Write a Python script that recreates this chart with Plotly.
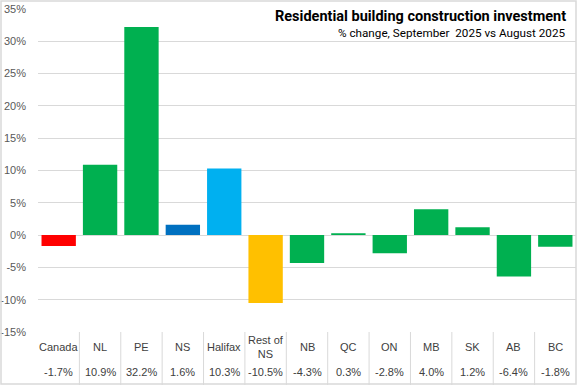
import plotly.graph_objects as go

categories = ["Canada", "NL", "PE", "NS", "Halifax", "Rest of NS", "NB", "QC", "ON", "MB", "SK", "AB", "BC"]
values = [-1.7, 10.9, 32.2, 1.6, 10.3, -10.5, -4.3, 0.3, -2.8, 4.0, 1.2, -6.4, -1.8]
tick_values = [-15, -10, -5, 0, 5, 10, 15, 20, 25, 30, 35]
tick_labels = ["-15%", "-10%", "-5%", "0%", "5%", "10%", "15%", "20%", "25%", "30%", "35%"]
title_text = "Residential building construction investment"
subtitle_text = "% change, September  2025 vs August 2025"

GREEN = "#00B050"
bar_colors = ["#FF0000", GREEN, GREEN, "#0070C0", "#00B0F0", "#FFC000",
              GREEN, GREEN, GREEN, GREEN, GREEN, GREEN, GREEN]

W, H = 577, 385
L, R, T, B = 38, 1, 9, 53
plot_h = H - T - B
plot_w = W - L - R

def py(pix):
    return (H - B - pix) / plot_h

def px(pix):
    return (pix - L) / plot_w

FONT = "Liberation Sans"
GRID = "#D9D9D9"
TXT = "#404040"

fig = go.Figure(go.Bar(
    x=categories, y=values, marker_color=bar_colors, marker_line_width=0,
    hoverinfo="skip",
))

annotations = []
shapes = []
display_names = [c.replace("Rest of NS", "Rest of<br>NS") for c in categories]
for i, (c, v) in enumerate(zip(categories, values)):
    annotations.append(dict(x=c, xref="x", y=py(347), yref="paper", text=display_names[i],
                            showarrow=False, font=dict(family=FONT, size=11, color=TXT),
                            xanchor="center", yanchor="middle"))
    annotations.append(dict(x=c, xref="x", y=py(372), yref="paper", text=f"{v:.1f}%",
                            showarrow=False, font=dict(family=FONT, size=11, color=TXT),
                            xanchor="center", yanchor="middle"))
for i in range(len(categories) - 1):
    shapes.append(dict(type="line", xref="x", yref="paper", x0=i + 0.5, x1=i + 0.5,
                       y0=0, y1=py(H), line=dict(color=GRID, width=1)))

# chart border
shapes.append(dict(type="rect", xref="paper", yref="paper", x0=px(1), x1=px(W - 1),
                   y0=py(H - 1), y1=py(1), line=dict(color=GRID, width=1.5)))

annotations.append(dict(x=px(568), y=py(17), xref="paper", yref="paper", text=f"<b>{title_text}</b>",
                        showarrow=False, xanchor="right", yanchor="middle",
                        font=dict(family="Roboto", size=14.5, color="#000000")))
annotations.append(dict(x=px(568), y=py(33), xref="paper", yref="paper", text=subtitle_text,
                        showarrow=False, xanchor="right", yanchor="middle",
                        font=dict(family="Roboto", size=11.7, color="#000000")))

fig.update_layout(
    width=W, height=H, margin=dict(l=L, r=R, t=T, b=B, pad=0),
    plot_bgcolor="white", paper_bgcolor="white", showlegend=False,
    bargap=0.17, hovermode=False,
    annotations=annotations, shapes=shapes,
    xaxis=dict(type="category", range=[-0.5, len(categories) - 0.5], showticklabels=False,
               showgrid=False, zeroline=False, showline=False, ticks=""),
    yaxis=dict(range=[-15, 35], tickvals=tick_values, ticktext=tick_labels, showgrid=True,
               gridcolor=GRID, gridwidth=1, zeroline=False, showline=False, ticks="",
               ticklabelstandoff=11,
               tickfont=dict(family=FONT, size=11, color="#595959")),
)

fig.write_html("out.html", config={"displayModeBar": False, "staticPlot": True},
               post_script="document.body.style.margin='0';document.body.style.overflow='hidden';")
